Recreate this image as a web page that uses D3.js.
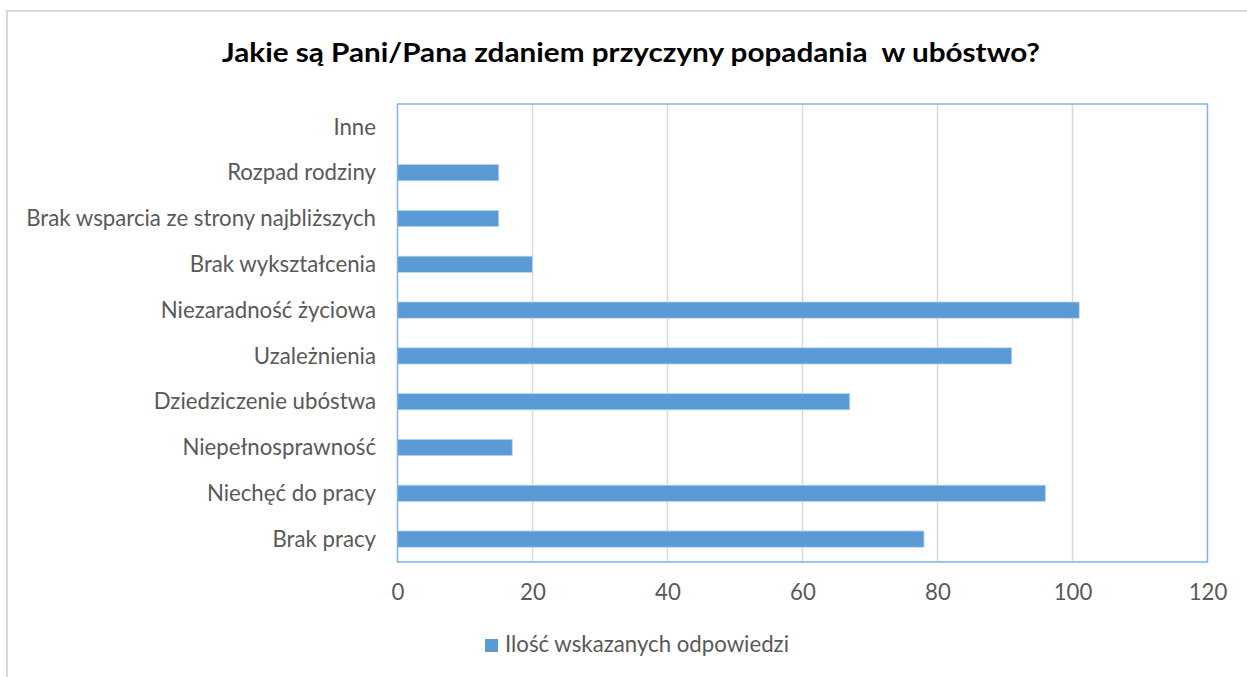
<!DOCTYPE html>
<html><head><meta charset="utf-8">
<script src="https://cdn.jsdelivr.net/npm/d3@7"></script>
<style>html,body{margin:0;padding:0;background:#fff;}svg{display:block;}</style>
</head><body>
<script>
const categories = ["Inne","Rozpad rodziny","Brak wsparcia ze strony najbliższych","Brak wykształcenia","Niezaradność życiowa","Uzależnienia","Dziedziczenie ubóstwa","Niepełnosprawność","Niechęć do pracy","Brak pracy"];
const values = [0,15,15,20,101,91,67,17,96,78];
const xTicks = [0,20,40,60,80,100,120];
const seriesName = "Ilość wskazanych odpowiedzi";
const title = "Jakie są Pani/Pana zdaniem przyczyny popadania  w ubóstwo?";

const W = 1247, H = 677;
const svg = d3.select("body").append("svg").attr("width", W).attr("height", H);
const font = "Lato, 'Open Sans', sans-serif";

// outer chart border
svg.append("path").attr("d", `M7,${H} L7,11 L${W},11`).attr("fill","none").attr("stroke","#d9d9d9").attr("stroke-width",2);

const m = {left:397.5, right:1207.5, top:104, bottom:562};
const x = d3.scaleLinear().domain([0,120]).range([m.left, m.right]);
const y = d3.scaleBand().domain(categories).range([m.top, m.bottom]).paddingInner(0.645).paddingOuter(0.3225);

// gridlines
svg.append("g").selectAll("line").data(xTicks.slice(1,-1)).join("line")
  .attr("x1", d=>x(d)).attr("x2", d=>x(d)).attr("y1", m.top).attr("y2", m.bottom)
  .attr("stroke","#d9d9d9").attr("stroke-width",1.5);

// bars
svg.append("g").selectAll("rect").data(categories).join("rect")
  .attr("x", x(0)).attr("y", (d)=>y(d))
  .attr("width", (d,i)=>x(values[i])-x(0)).attr("height", y.bandwidth())
  .attr("fill","#5b9bd5").attr("stroke","#bdd7ee").attr("stroke-width", (d,i)=>values[i]>0?0.8:0);

// plot border
svg.append("rect").attr("x", m.left).attr("y", m.top).attr("width", m.right-m.left).attr("height", m.bottom-m.top)
  .attr("fill","none").attr("stroke","#7fb2e5").attr("stroke-width",1.5);

// y labels
const yl = svg.append("g").selectAll("text").data(categories).join("text")
  .attr("x", 376).attr("y", d=>y(d)+y.bandwidth()/2).attr("dy","0.35em")
  .attr("text-anchor","end").attr("fill","#595959").style("font-family",font).style("font-size","18px")
  .text(d=>d);
// fit longest label width to ~350px
let maxW = 0; yl.each(function(){ maxW = Math.max(maxW, this.getComputedTextLength()); });
const fs = 18*350/maxW;
yl.style("font-size", fs+"px");

// x axis labels
const xa = svg.append("g").attr("transform", `translate(0,${m.bottom})`)
  .call(d3.axisBottom(x).tickValues(xTicks).tickSize(0).tickPadding(22));
xa.select(".domain").remove();
xa.selectAll("text").attr("fill","#595959").style("font-family",font).style("font-size", fs+"px");

// title
svg.append("text").attr("x", 631).attr("y", 62).attr("text-anchor","middle")
  .style("font-family", font).style("font-weight","bold").style("font-size","27.5px").attr("fill","#000")
  .style("white-space","pre")
  .attr("textLength", 818).attr("lengthAdjust","spacingAndGlyphs").text(title);

// legend
svg.append("rect").attr("x",485).attr("y",639).attr("width",13).attr("height",13).attr("fill","#5b9bd5");
svg.append("text").attr("x",505).attr("y",652).attr("fill","#595959").style("font-family",font).style("font-size", fs+"px").text(seriesName);
</script>
</body></html>
